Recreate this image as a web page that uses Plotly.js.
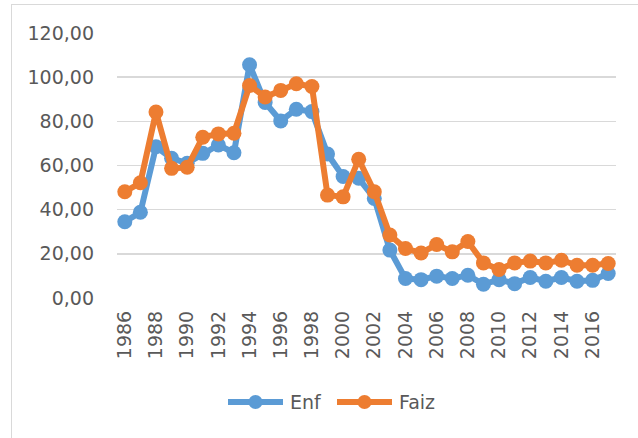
<!DOCTYPE html>
<html>
<head>
<meta charset="utf-8">
<script src="https://cdn.plot.ly/plotly-3.0.1.min.js"></script>
<style>
  html, body { margin: 0; padding: 0; background: #ffffff; }
  #wrap { position: relative; width: 638px; height: 438px; overflow: hidden; }
  #chart { position: absolute; left: 0; top: 0; width: 638px; height: 438px; }
  #frame { position: absolute; left: 11px; top: 4px; width: 640px; height: 440px;
           border-left: 1px solid #d9d9d9; border-top: 1px solid #d9d9d9; pointer-events: none; }
</style>
</head>
<body>
<div id="wrap">
  <div id="chart"></div>
  <div id="frame"></div>
</div>
<script>
const years = ["1986","1987","1988","1989","1990","1991","1992","1993","1994","1995",
               "1996","1997","1998","1999","2000","2001","2002","2003","2004","2005",
               "2006","2007","2008","2009","2010","2011","2012","2013","2014","2015",
               "2016","2017"];
const enf  = [34.5, 38.8, 68.5, 63.3, 61.0, 65.5, 69.3, 65.8, 105.6, 88.5,
              80.2, 85.5, 84.4, 65.2, 55.0, 54.2, 45.1, 21.7, 8.8, 8.3,
              9.9, 8.8, 10.3, 6.2, 8.3, 6.5, 9.3, 7.6, 9.3, 7.6,
              8.0, 11.1];
const faiz = [48.1, 52.2, 84.2, 58.7, 59.2, 72.8, 74.3, 74.6, 96.2, 91.0,
              94.0, 97.0, 95.8, 46.6, 45.8, 62.8, 48.1, 28.5, 22.4, 20.4,
              24.2, 20.9, 25.6, 15.9, 12.9, 15.9, 16.7, 15.9, 17.1, 14.8,
              14.8, 15.6];
const xTickLabels = years.filter((y, i) => i % 2 === 0);
const yTickVals = [0, 20, 40, 60, 80, 100, 120];
const yTickText = ["0,00", "20,00", "40,00", "60,00", "80,00", "100,00", "120,00"];
const seriesNames = ["Enf", "Faiz"];

const blue = "#5B9BD5", orange = "#ED7D31";
const colors = [blue, orange];
const fontFam = "DejaVu Sans, Liberation Sans, sans-serif";

const M = { l: 117, r: 22, t: 33, b: 140 };
const W = 638, H = 438;
const pw = W - M.l - M.r, ph = H - M.t - M.b;
const px = x => (x - M.l) / pw;
const py = y => (H - M.b - y) / ph;

const traces = [
  { x: years, y: enf, name: seriesNames[0], type: "scatter", mode: "lines+markers",
    line: { color: blue, width: 6 }, marker: { color: blue, size: 15 } },
  { x: years, y: faiz, name: seriesNames[1], type: "scatter", mode: "lines+markers",
    line: { color: orange, width: 6 }, marker: { color: orange, size: 15 } }
];

// custom legend (Excel style: long line with a marker in the middle)
const legendItems = [
  { x0: 228, x1: 283, tx: 288 },
  { x0: 337, x1: 392, tx: 397 }
];
const legY = 402;
const shapes = [], annotations = [];
legendItems.forEach((it, i) => {
  shapes.push({ type: "line", xref: "paper", yref: "paper",
    x0: px(it.x0), x1: px(it.x1), y0: py(legY), y1: py(legY),
    line: { color: colors[i], width: 6 }, layer: "above" });
  const cx = (it.x0 + it.x1) / 2, r = 7;
  shapes.push({ type: "circle", xref: "paper", yref: "paper",
    x0: px(cx - r), x1: px(cx + r), y0: py(legY + r), y1: py(legY - r),
    fillcolor: colors[i], line: { color: colors[i], width: 0 }, layer: "above" });
  annotations.push({ xref: "paper", yref: "paper", x: px(it.tx), y: py(legY),
    xanchor: "left", yanchor: "middle", showarrow: false, text: seriesNames[i],
    font: { family: fontFam, size: 19, color: "#595959" } });
});

const layout = {
  width: W, height: H,
  margin: M,
  paper_bgcolor: "#ffffff", plot_bgcolor: "#ffffff",
  font: { family: fontFam, size: 19, color: "#595959" },
  showlegend: false,
  shapes: shapes, annotations: annotations,
  xaxis: { type: "category", tickvals: xTickLabels, ticktext: xTickLabels,
           tickangle: -90, showgrid: false, zeroline: false, showline: false,
           ticks: "", ticklabelstandoff: 8, range: [-0.5, years.length - 0.5],
           tickfont: { family: fontFam, size: 19, color: "#595959" } },
  yaxis: { range: [0, 120], tickvals: yTickVals, ticktext: yTickText,
           showgrid: true, gridcolor: "#d9d9d9", gridwidth: 1.5, zeroline: false,
           showline: false, ticks: "", ticklabelstandoff: 22,
           tickfont: { family: fontFam, size: 19, color: "#595959" } }
};

Plotly.newPlot("chart", traces, layout, { displayModeBar: false, staticPlot: true });
</script>
</body>
</html>
